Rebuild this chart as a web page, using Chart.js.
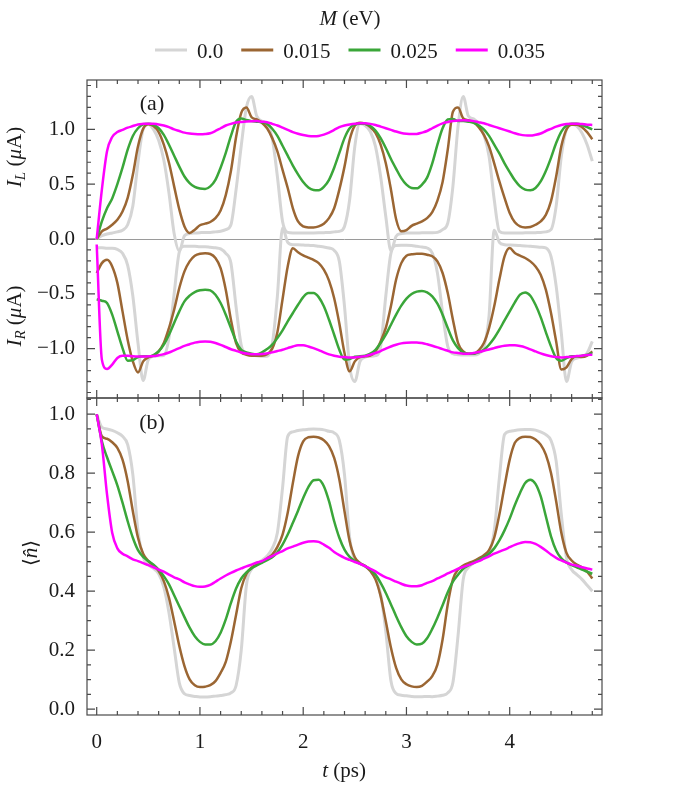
<!DOCTYPE html>
<html>
<head>
<meta charset="utf-8">
<script src="https://cdn.jsdelivr.net/npm/chart.js@4.4.1/dist/chart.umd.min.js"></script>
<style>
  body { margin: 0; background: #fff; }
  #wrap { position: relative; width: 697px; height: 798px; }
  canvas { position: absolute; left: 0; }
  #topChart { top: 0; }
  #botChart { top: 396px; }
</style>
</head>
<body>
<div id="wrap">
  <canvas id="topChart" width="697" height="400"></canvas>
  <canvas id="botChart" width="697" height="402"></canvas>
</div>
<script>
// time axis (ps)
const tPs = [
  0, 0.05, 0.1, 0.15, 0.2, 0.25, 0.3, 0.35, 0.4, 0.45,
  0.5, 0.55, 0.6, 0.65, 0.7, 0.75, 0.8, 0.85, 0.9, 0.95,
  1.0, 1.05, 1.1, 1.15, 1.2, 1.25, 1.3, 1.35, 1.4, 1.45,
  1.5, 1.55, 1.6, 1.65, 1.7, 1.75, 1.8, 1.85, 1.9, 1.95,
  2.0, 2.05, 2.1, 2.15, 2.2, 2.25, 2.3, 2.35, 2.4, 2.45,
  2.5, 2.55, 2.6, 2.65, 2.7, 2.75, 2.8, 2.85, 2.9, 2.95,
  3.0, 3.05, 3.1, 3.15, 3.2, 3.25, 3.3, 3.35, 3.4, 3.45,
  3.5, 3.55, 3.6, 3.65, 3.7, 3.75, 3.8, 3.85, 3.9, 3.95,
  4.0, 4.05, 4.1, 4.15, 4.2, 4.25, 4.3, 4.35, 4.4, 4.45,
  4.5, 4.55, 4.6, 4.65, 4.7, 4.75, 4.8
];

const mLabels = ['0.0', '0.015', '0.025', '0.035'];
const lineColors = ['#d5d5d5', '#9b6633', '#3aa639', '#ff00ff'];

const tTicks = [0, 1, 2, 3, 4];
const currentTicks = [-1, -0.5, 0, 0.5, 1];
const occTicks = [0, 0.2, 0.4, 0.6, 0.8, 1];

// M = 0.0
const iL_0 = [
  0, 0.03, 0.045, 0.055, 0.065, 0.08, 0.13, 0.30, 0.70, 1.0,
  1.045, 1.0, 0.90, 0.72, 0.42, 0.05, -0.11, 0.03, 0.05, 0.055,
  0.058, 0.06, 0.06, 0.065, 0.07, 0.085, 0.13, 0.45, 0.85, 1.20,
  1.30, 1.12, 1.075, 1.045, 0.92, 0.57, 0.16, 0.06, 0.055, 0.055,
  0.055, 0.055, 0.055, 0.056, 0.058, 0.06, 0.065, 0.07, 0.115, 0.36,
  0.845, 1.05, 1.035, 0.98, 0.845, 0.57, 0.205, -0.11, 0.025, 0.05,
  0.055, 0.055, 0.055, 0.056, 0.056, 0.056, 0.06, 0.085, 0.145, 0.48,
  1.03, 1.30, 1.12, 1.095, 1.045, 0.95, 0.755, 0.36, 0.07, 0.055,
  0.055, 0.055, 0.055, 0.056, 0.056, 0.058, 0.06, 0.065, 0.085, 0.30,
  0.755, 1.0, 1.045, 1.03, 0.967, 0.86, 0.71
];
const iR_0 = [
  -0.08, -0.08, -0.085, -0.085, -0.095, -0.13, -0.24, -0.52, -0.95, -1.29,
  -1.10, -1.07, -1.065, -1.06, -0.90, -0.50, -0.12, -0.065, -0.065, -0.065,
  -0.07, -0.07, -0.075, -0.08, -0.09, -0.13, -0.22, -0.62, -0.97, -1.05,
  -1.06, -1.065, -1.07, -1.07, -0.96, -0.52, 0.10, -0.03, -0.052, -0.052,
  -0.055, -0.058, -0.06, -0.067, -0.073, -0.082, -0.103, -0.204, -0.614, -1.162,
  -1.30, -1.116, -1.077, -1.07, -1.064, -0.979, -0.52, -0.128, -0.06, -0.058,
  -0.058, -0.06, -0.067, -0.073, -0.082, -0.128, -0.31, -0.675, -0.979, -1.046,
  -1.055, -1.058, -1.058, -1.058, -1.046, -0.98, -0.70, 0.08, -0.03, -0.052,
  -0.055, -0.057, -0.06, -0.063, -0.067, -0.07, -0.075, -0.082, -0.158, -0.43,
  -0.858, -1.30, -1.12, -1.086, -1.07, -1.04, -0.934
];
const n_0 = [
  1.0, 0.956, 0.95, 0.945, 0.937, 0.925, 0.897, 0.795, 0.603, 0.515,
  0.49, 0.477, 0.459, 0.414, 0.327, 0.208, 0.089, 0.052, 0.046, 0.043,
  0.041, 0.041, 0.042, 0.044, 0.046, 0.049, 0.055, 0.08, 0.20, 0.42,
  0.475, 0.49, 0.504, 0.519, 0.545, 0.598, 0.75, 0.925, 0.94, 0.945,
  0.947, 0.949, 0.95, 0.949, 0.947, 0.942, 0.937, 0.911, 0.795, 0.581,
  0.507, 0.493, 0.484, 0.47, 0.445, 0.389, 0.264, 0.095, 0.053, 0.047,
  0.045, 0.043, 0.042, 0.042, 0.043, 0.042, 0.044, 0.047, 0.055, 0.09,
  0.25, 0.44, 0.48, 0.495, 0.505, 0.513, 0.53, 0.603, 0.784, 0.931,
  0.942, 0.945, 0.947, 0.948, 0.948, 0.946, 0.94, 0.931, 0.911, 0.841,
  0.66, 0.513, 0.473, 0.456, 0.44, 0.42, 0.40
];

// M = 0.015
const iL_015 = [
  0, 0.07, 0.095, 0.13, 0.175, 0.25, 0.375, 0.585, 0.845, 1.005,
  1.046, 1.03, 0.975, 0.86, 0.695, 0.48, 0.27, 0.115, 0.055, 0.085,
  0.125, 0.14, 0.155, 0.19, 0.26, 0.40, 0.62, 0.93, 1.15, 1.20,
  1.11, 1.09, 1.06, 1.01, 0.92, 0.80, 0.63, 0.465, 0.28, 0.16,
  0.115, 0.106, 0.106, 0.115, 0.14, 0.19, 0.28, 0.45, 0.66, 0.905,
  1.034, 1.06, 1.05, 1.02, 0.967, 0.86, 0.69, 0.45, 0.18, 0.07,
  0.08, 0.12, 0.14, 0.16, 0.19, 0.245, 0.35, 0.52, 0.815, 1.16,
  1.20, 1.10, 1.083, 1.067, 1.02, 0.95, 0.845, 0.69, 0.525, 0.375,
  0.237, 0.152, 0.115, 0.106, 0.11, 0.13, 0.16, 0.22, 0.345, 0.57,
  0.845, 0.998, 1.043, 1.043, 1.02, 0.975, 0.91
];
const iR_015 = [
  -0.31, -0.22, -0.19, -0.25, -0.40, -0.66, -0.92, -1.115, -1.217, -1.116,
  -1.08, -1.064, -1.025, -0.949, -0.812, -0.645, -0.447, -0.295, -0.204, -0.152,
  -0.134, -0.131, -0.137, -0.173, -0.265, -0.462, -0.736, -0.949, -1.034, -1.055,
  -1.064, -1.064, -1.064, -1.05, -1.0, -0.85, -0.55, -0.25, -0.085, -0.12,
  -0.15, -0.17, -0.19, -0.22, -0.28, -0.38, -0.54, -0.77, -1.04, -1.207,
  -1.116, -1.077, -1.07, -1.064, -1.025, -0.934, -0.81, -0.61, -0.37, -0.22,
  -0.152, -0.14, -0.134, -0.134, -0.143, -0.158, -0.204, -0.31, -0.493, -0.736,
  -0.949, -1.025, -1.046, -1.046, -1.016, -0.949, -0.812, -0.614, -0.37, -0.158,
  -0.082, -0.128, -0.152, -0.173, -0.204, -0.25, -0.325, -0.462, -0.675, -0.934,
  -1.19, -1.17, -1.095, -1.07, -1.077, -1.064, -1.025
];
const n_015 = [
  1.0, 0.925, 0.917, 0.905, 0.886, 0.846, 0.773, 0.671, 0.581, 0.527,
  0.502, 0.487, 0.468, 0.434, 0.377, 0.298, 0.214, 0.146, 0.101, 0.081,
  0.075, 0.076, 0.081, 0.095, 0.123, 0.16, 0.23, 0.32, 0.41, 0.458,
  0.48, 0.49, 0.499, 0.511, 0.524, 0.55, 0.592, 0.666, 0.767, 0.858,
  0.908, 0.922, 0.924, 0.921, 0.912, 0.892, 0.852, 0.779, 0.671, 0.569,
  0.515, 0.496, 0.485, 0.468, 0.44, 0.383, 0.298, 0.208, 0.14, 0.101,
  0.084, 0.077, 0.075, 0.079, 0.093, 0.112, 0.151, 0.236, 0.355, 0.44,
  0.473, 0.487, 0.495, 0.502, 0.511, 0.522, 0.539, 0.581, 0.66, 0.756,
  0.846, 0.903, 0.92, 0.924, 0.923, 0.914, 0.897, 0.863, 0.801, 0.705,
  0.598, 0.53, 0.504, 0.49, 0.481, 0.466, 0.443
];

// M = 0.025
const iL_025 = [
  0, 0.16, 0.28, 0.37, 0.50, 0.65, 0.815, 0.94, 1.01, 1.045,
  1.05, 1.04, 1.01, 0.95, 0.86, 0.76, 0.66, 0.57, 0.51, 0.475,
  0.46, 0.456, 0.48, 0.54, 0.65, 0.785, 0.94, 1.07, 1.10, 1.085,
  1.075, 1.07, 1.065, 1.05, 1.005, 0.94, 0.85, 0.76, 0.67, 0.59,
  0.52, 0.47, 0.447, 0.444, 0.475, 0.54, 0.65, 0.785, 0.92, 1.01,
  1.045, 1.052, 1.05, 1.03, 0.99, 0.92, 0.83, 0.73, 0.64, 0.555,
  0.495, 0.465, 0.462, 0.495, 0.56, 0.69, 0.86, 1.01, 1.09, 1.095,
  1.075, 1.075, 1.07, 1.06, 1.035, 1.0, 0.94, 0.86, 0.78, 0.69,
  0.61, 0.535, 0.48, 0.45, 0.444, 0.465, 0.525, 0.62, 0.74, 0.875,
  0.98, 1.035, 1.05, 1.05, 1.04, 1.02, 1.0
];
const iR_025 = [
  -0.55, -0.563, -0.584, -0.69, -0.842, -0.995, -1.11, -1.105, -1.077, -1.07,
  -1.07, -1.058, -1.025, -0.964, -0.873, -0.766, -0.66, -0.569, -0.517, -0.484,
  -0.468, -0.462, -0.468, -0.508, -0.584, -0.69, -0.812, -0.934, -1.01, -1.034,
  -1.046, -1.052, -1.034, -1.004, -0.964, -0.903, -0.833, -0.751, -0.675, -0.60,
  -0.53, -0.493, -0.493, -0.53, -0.614, -0.736, -0.873, -1.01, -1.10, -1.095,
  -1.073, -1.07, -1.064, -1.046, -1.01, -0.949, -0.873, -0.782, -0.69, -0.608,
  -0.544, -0.502, -0.48, -0.474, -0.487, -0.523, -0.59, -0.69, -0.812, -0.925,
  -0.995, -1.034, -1.046, -1.046, -1.034, -1.01, -0.964, -0.903, -0.827, -0.742,
  -0.66, -0.578, -0.508, -0.487, -0.517, -0.60, -0.712, -0.849, -0.979, -1.086,
  -1.11, -1.086, -1.07, -1.07, -1.064, -1.055, -1.04
];
const n_025 = [
  1.0, 0.908, 0.854, 0.807, 0.759, 0.70, 0.637, 0.581, 0.539, 0.516,
  0.502, 0.49, 0.473, 0.451, 0.423, 0.386, 0.349, 0.312, 0.276, 0.247,
  0.228, 0.219, 0.219, 0.23, 0.259, 0.304, 0.36, 0.409, 0.443, 0.464,
  0.477, 0.487, 0.496, 0.505, 0.515, 0.532, 0.558, 0.592, 0.632, 0.673,
  0.716, 0.753, 0.776, 0.778, 0.756, 0.705, 0.637, 0.581, 0.541, 0.516,
  0.502, 0.493, 0.485, 0.473, 0.456, 0.428, 0.394, 0.355, 0.315, 0.278,
  0.247, 0.228, 0.219, 0.222, 0.24, 0.272, 0.31, 0.352, 0.396, 0.432,
  0.456, 0.476, 0.487, 0.496, 0.505, 0.515, 0.527, 0.545, 0.572, 0.606,
  0.646, 0.692, 0.733, 0.767, 0.778, 0.764, 0.722, 0.654, 0.586, 0.538,
  0.511, 0.497, 0.488, 0.481, 0.473, 0.466, 0.459
];

// M = 0.035
const iL_035 = [
  0, 0.45, 0.80, 0.93, 0.975, 0.995, 1.015, 1.03, 1.045, 1.05,
  1.052, 1.05, 1.045, 1.035, 1.02, 1.0, 0.985, 0.97, 0.962, 0.958,
  0.956, 0.958, 0.965, 0.985, 1.01, 1.035, 1.05, 1.062, 1.068, 1.072,
  1.074, 1.075, 1.07, 1.065, 1.05, 1.035, 1.015, 0.995, 0.975, 0.96,
  0.948, 0.94, 0.937, 0.94, 0.952, 0.97, 0.995, 1.02, 1.035, 1.045,
  1.052, 1.055, 1.055, 1.05, 1.04, 1.025, 1.01, 0.995, 0.98, 0.967,
  0.96, 0.957, 0.958, 0.97, 0.985, 1.01, 1.035, 1.055, 1.067, 1.077,
  1.08, 1.082, 1.08, 1.075, 1.065, 1.055, 1.04, 1.025, 1.01, 0.995,
  0.98, 0.965, 0.952, 0.945, 0.943, 0.95, 0.962, 0.985, 1.005, 1.025,
  1.04, 1.048, 1.052, 1.052, 1.048, 1.043, 1.04
];
const iR_035 = [
  -0.05, -1.10, -1.185, -1.145, -1.085, -1.065, -1.065, -1.07, -1.072, -1.072,
  -1.07, -1.068, -1.06, -1.05, -1.035, -1.015, -0.995, -0.975, -0.96, -0.945,
  -0.937, -0.934, -0.937, -0.948, -0.965, -0.985, -1.005, -1.02, -1.035, -1.045,
  -1.05, -1.052, -1.049, -1.043, -1.034, -1.022, -1.01, -0.995, -0.98, -0.97,
  -0.97, -0.98, -0.995, -1.013, -1.034, -1.052, -1.064, -1.073, -1.077, -1.08,
  -1.08, -1.073, -1.068, -1.055, -1.04, -1.022, -1.0, -0.98, -0.964, -0.952,
  -0.946, -0.943, -0.943, -0.949, -0.96, -0.973, -0.988, -1.004, -1.019, -1.034,
  -1.04, -1.046, -1.046, -1.04, -1.031, -1.019, -1.007, -0.995, -0.982, -0.973,
  -0.97, -0.97, -0.976, -0.988, -1.007, -1.025, -1.043, -1.058, -1.07, -1.077,
  -1.08, -1.077, -1.073, -1.068, -1.064, -1.058, -1.055
];
const n_035 = [
  1.0, 0.897, 0.728, 0.598, 0.545, 0.527, 0.518, 0.508, 0.502, 0.495,
  0.488, 0.481, 0.473, 0.466, 0.456, 0.447, 0.44, 0.43, 0.423, 0.417,
  0.415, 0.416, 0.421, 0.432, 0.443, 0.453, 0.462, 0.47, 0.477, 0.484,
  0.49, 0.497, 0.502, 0.511, 0.519, 0.528, 0.536, 0.545, 0.551, 0.558,
  0.564, 0.568, 0.569, 0.567, 0.558, 0.547, 0.533, 0.522, 0.513, 0.506,
  0.499, 0.493, 0.485, 0.476, 0.467, 0.456, 0.447, 0.44, 0.432, 0.425,
  0.419, 0.417, 0.417, 0.42, 0.428, 0.434, 0.443, 0.451, 0.46, 0.468,
  0.476, 0.482, 0.488, 0.495, 0.502, 0.51, 0.518, 0.527, 0.534, 0.541,
  0.549, 0.557, 0.563, 0.567, 0.566, 0.56, 0.55, 0.538, 0.524, 0.513,
  0.504, 0.497, 0.49, 0.486, 0.481, 0.477, 0.473
];

const currentsL = [iL_0, iL_015, iL_025, iL_035];
const currentsR = [iR_0, iR_015, iR_025, iR_035];
const occupations = [n_0, n_015, n_025, n_035];

const SERIF = '"Liberation Serif", "DejaVu Serif", serif';
const TXT = '#1a1a1a';

function toPoints(arr) {
  return tPs.map((t, i) => ({ x: t, y: arr[i] }));
}

function lineSet(arr, k) {
  return {
    label: mLabels[k],
    data: toPoints(arr),
    borderColor: lineColors[k],
    borderWidth: k === 0 ? 3 : 2.5,
    pointRadius: 0,
    cubicInterpolationMode: 'monotone',
    order: 4 - k,
    fill: false
  };
}

function fmtTick(v) {
  return v.toFixed(1).replace('-', '\u2212');
}

// mixed-style text, centred on x
function drawParts(ctx, parts, x, y, angle) {
  ctx.save();
  ctx.translate(x, y);
  if (angle) ctx.rotate(angle);
  let w = 0;
  parts.forEach(p => { ctx.font = p.font; p.w = ctx.measureText(p.text).width; w += p.w; });
  let cx = -w / 2;
  ctx.textBaseline = 'alphabetic';
  ctx.textAlign = 'left';
  ctx.fillStyle = TXT;
  parts.forEach(p => { ctx.font = p.font; ctx.fillText(p.text, cx, p.dy || 0); cx += p.w; });
  ctx.restore();
}

// frame with inward ticks on all four sides
function framePlugin(xMinor, yMinor, xMajor, yMajor) {
  return {
    id: 'frame',
    afterDatasetsDraw(chart) {
      const { ctx, chartArea: a, scales: { x, y } } = chart;
      const isMajor = (list, v) => list.some(m => Math.abs(m - v) < 1e-6);
      ctx.save();
      ctx.strokeStyle = '#4a4a4a';
      ctx.lineWidth = 1.2;
      ctx.beginPath();
      for (let k = Math.ceil(x.min / xMinor); k * xMinor <= x.max + 1e-9; k++) {
        const v = k * xMinor;
        const px = x.getPixelForValue(v);
        const len = isMajor(xMajor, v) ? 8 : 4;
        ctx.moveTo(px, a.bottom); ctx.lineTo(px, a.bottom - len);
        ctx.moveTo(px, a.top); ctx.lineTo(px, a.top + len);
      }
      for (let k = Math.ceil(y.min / yMinor - 1e-9); k * yMinor <= y.max + 1e-9; k++) {
        const v = k * yMinor;
        const py = y.getPixelForValue(v);
        const len = isMajor(yMajor, v) ? 8 : 4;
        ctx.moveTo(a.left, py); ctx.lineTo(a.left + len, py);
        ctx.moveTo(a.right, py); ctx.lineTo(a.right - len, py);
      }
      ctx.stroke();
      ctx.strokeRect(a.left, a.top, a.right - a.left, a.bottom - a.top);
      ctx.restore();
    }
  };
}

const zeroLine = {
  id: 'zeroLine',
  beforeDatasetsDraw(chart) {
    const { ctx, chartArea: a, scales: { y } } = chart;
    const py = Math.round(y.getPixelForValue(0)) + 0.5;
    ctx.save();
    ctx.strokeStyle = '#9a9a9a';
    ctx.lineWidth = 1;
    ctx.beginPath();
    ctx.moveTo(a.left, py);
    ctx.lineTo(a.right, py);
    ctx.stroke();
    ctx.restore();
  }
};

const topLabels = {
  id: 'topLabels',
  afterDraw(chart) {
    const ctx = chart.ctx;
    // legend title
    drawParts(ctx, [
      { text: 'M', font: 'italic 21px ' + SERIF },
      { text: ' (eV)', font: '21px ' + SERIF }
    ], 350, 25);
    // legend row
    ctx.save();
    ctx.font = '21px ' + SERIF;
    const lineLen = 32, gap = 10, itemGap = 18;
    const widths = mLabels.map(s => ctx.measureText(s).width);
    let total = 0;
    widths.forEach((w, i) => { total += lineLen + gap + w + (i < widths.length - 1 ? itemGap : 0); });
    let x0 = 350 - total / 2;
    mLabels.forEach((s, i) => {
      ctx.strokeStyle = lineColors[i];
      ctx.lineWidth = 3;
      ctx.beginPath();
      ctx.moveTo(x0, 50);
      ctx.lineTo(x0 + lineLen, 50);
      ctx.stroke();
      ctx.fillStyle = TXT;
      ctx.textBaseline = 'alphabetic';
      ctx.fillText(s, x0 + lineLen + gap, 58);
      x0 += lineLen + gap + widths[i] + itemGap;
    });
    ctx.restore();
    // panel tag
    drawParts(ctx, [{ text: '(a)', font: '22px ' + SERIF }], 152, 110);
    // axis titles
    drawParts(ctx, [
      { text: 'I', font: 'italic 21px ' + SERIF },
      { text: 'L', font: 'italic 15px ' + SERIF, dy: 4 },
      { text: ' (', font: '21px ' + SERIF },
      { text: '\u03bc', font: 'italic 21px ' + SERIF },
      { text: 'A)', font: '21px ' + SERIF }
    ], 21, 157, -Math.PI / 2);
    drawParts(ctx, [
      { text: 'I', font: 'italic 21px ' + SERIF },
      { text: 'R', font: 'italic 15px ' + SERIF, dy: 4 },
      { text: ' (', font: '21px ' + SERIF },
      { text: '\u03bc', font: 'italic 21px ' + SERIF },
      { text: 'A)', font: '21px ' + SERIF }
    ], 21, 316, -Math.PI / 2);
  }
};

const botLabels = {
  id: 'botLabels',
  afterDraw(chart) {
    const ctx = chart.ctx;
    drawParts(ctx, [{ text: '(b)', font: '22px ' + SERIF }], 152, 33);
    drawParts(ctx, [
      { text: '\u27e8', font: '20px "DejaVu Serif", serif' },
      { text: 'n\u0302', font: 'italic 21px ' + SERIF },
      { text: '\u27e9', font: '20px "DejaVu Serif", serif' }
    ], 37, 157, -Math.PI / 2);
    drawParts(ctx, [
      { text: 't', font: 'italic 21px ' + SERIF },
      { text: ' (ps)', font: '21px ' + SERIF }
    ], 344, 381);
  }
};

const tickFont = { family: SERIF, size: 21 };

const xRange = { min: -0.094, max: 4.894 };

// keep the frame where it belongs: no extra room for edge labels
function fixWidth(s) {
  s.width = 87;
  s.paddingTop = 0;
  s.paddingBottom = 0;
}

// top panel: currents
const topSets = [];
for (let k = 0; k < 4; k++) {
  topSets.push(lineSet(currentsL[k], k));
  topSets.push(lineSet(currentsR[k], k));
}

new Chart(document.getElementById('topChart'), {
  type: 'line',
  data: { datasets: topSets },
  options: {
    responsive: false,
    animation: false,
    devicePixelRatio: 1,
    layout: { padding: { left: 0, right: 95, top: 80, bottom: 2 } },
    plugins: { legend: { display: false }, tooltip: { enabled: false } },
    scales: {
      x: { type: 'linear', min: xRange.min, max: xRange.max, display: false },
      y: {
        type: 'linear', min: -1.45, max: 1.45,
        afterFit: fixWidth,
        afterBuildTicks: s => { s.ticks = currentTicks.map(v => ({ value: v })); },
        grid: { display: false },
        border: { display: false },
        ticks: { font: tickFont, color: TXT, padding: 4, callback: v => fmtTick(v) }
      }
    }
  },
  plugins: [zeroLine, framePlugin(0.2, 0.1, tTicks, currentTicks), topLabels]
});

// bottom panel: occupation
new Chart(document.getElementById('botChart'), {
  type: 'line',
  data: { datasets: occupations.map((arr, k) => lineSet(arr, k)) },
  options: {
    responsive: false,
    animation: false,
    devicePixelRatio: 1,
    layout: { padding: { left: 0, right: 95, top: 2, bottom: 0 } },
    plugins: { legend: { display: false }, tooltip: { enabled: false } },
    scales: {
      x: {
        type: 'linear', min: xRange.min, max: xRange.max,
        afterFit: s => { s.height = 83; s.paddingLeft = 0; s.paddingRight = 0; },
        afterBuildTicks: s => { s.ticks = tTicks.map(v => ({ value: v })); },
        grid: { display: false },
        border: { display: false },
        ticks: { font: tickFont, color: TXT, padding: 7, maxRotation: 0, callback: v => String(v) }
      },
      y: {
        type: 'linear', min: -0.02, max: 1.055,
        afterFit: fixWidth,
        afterBuildTicks: s => { s.ticks = occTicks.map(v => ({ value: v })); },
        grid: { display: false },
        border: { display: false },
        ticks: { font: tickFont, color: TXT, padding: 4, callback: v => fmtTick(v) }
      }
    }
  },
  plugins: [framePlugin(0.2, 0.05, tTicks, occTicks), botLabels]
});
</script>
</body>
</html>
